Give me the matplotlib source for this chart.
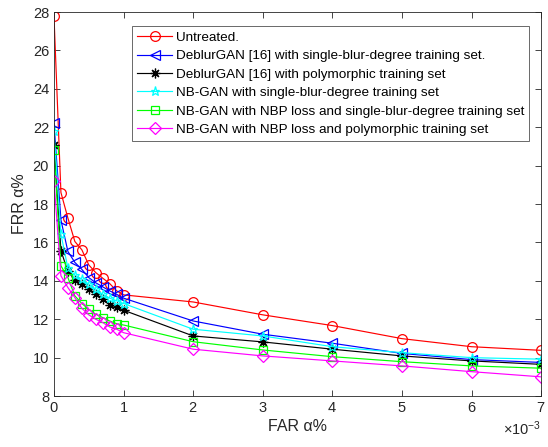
import matplotlib
matplotlib.use("Agg")
import matplotlib.pyplot as plt
from matplotlib.ticker import ScalarFormatter

plt.rcParams['font.family'] = ['Liberation Sans', 'DejaVu Sans']
plt.rcParams['mathtext.fontset'] = 'custom'
plt.rcParams['mathtext.rm'] = 'Liberation Sans'
plt.rcParams['mathtext.it'] = 'Liberation Sans:italic'

# FAR values (in units of 1e-3)
far_e3 = [0, 0.1, 0.2, 0.3, 0.4, 0.5, 0.6, 0.7, 0.8, 0.9, 1.0, 2, 3, 4, 5, 6, 7]

untreated = [27.8, 18.6, 17.27, 16.05, 15.62, 14.83, 14.43, 14.14, 13.86, 13.48, 13.27,
             12.9, 12.23, 11.67, 10.99, 10.57, 10.38]
deblur_single = [22.2, 17.17, 15.53, 14.96, 14.6, 14.17, 13.9, 13.69, 13.48, 13.3, 13.1,
                 11.91, 11.22, 10.75, 10.22, 9.9, 9.75]
deblur_poly = [21.1, 15.57, 14.49, 14.05, 13.83, 13.57, 13.34, 13.04, 12.75, 12.64, 12.47,
               11.13, 10.82, 10.44, 10.09, 9.83, 9.65]
nbgan_single = [21.8, 16.43, 14.66, 14.3, 14.09, 13.83, 13.57, 13.3, 13.1, 12.96, 12.82,
                11.48, 11.13, 10.57, 10.26, 10.0, 9.92]
nbgan_nbp_single = [20.83, 14.78, 14.17, 13.22, 12.82, 12.52, 12.26, 12.09, 11.91, 11.77, 11.7,
                    10.83, 10.4, 10.05, 9.79, 9.57, 9.45]
nbgan_nbp_poly = [19.22, 14.26, 13.65, 13.13, 12.57, 12.23, 12.0, 11.83, 11.6, 11.48, 11.3,
                  10.44, 10.09, 9.83, 9.57, 9.27, 9.0]

labels = [
    "Untreated.",
    "DeblurGAN [16] with single-blur-degree training set.",
    "DeblurGAN [16] with polymorphic training set",
    "NB-GAN with single-blur-degree training set",
    "NB-GAN with NBP loss and single-blur-degree training set",
    "NB-GAN with NBP loss and polymorphic training set",
]
series = [untreated, deblur_single, deblur_poly, nbgan_single, nbgan_nbp_single, nbgan_nbp_poly]
colors = ['#ff0000', '#0000ff', '#000000', '#00ffff', '#00ff00', '#ff00ff']
markers = ['o', '<', (8, 2, 0), '*', 's', 'D']
msizes = [7, 7, 7, 6.5, 5.5, 6]

far = [v * 1e-3 for v in far_e3]

fig = plt.figure(figsize=(5.48, 4.47), dpi=100)
ax = fig.add_axes([0.0985, 0.114, 0.889, 0.859])

for y, c, m, ms, lab in zip(series, colors, markers, msizes, labels):
    ax.plot(far, y, color=c, marker=m, markersize=ms, markerfacecolor='none',
            markeredgewidth=0.9, linewidth=0.85, label=lab)

ax.set_xlim(0, 0.007)
ax.set_ylim(8, 28)
ax.set_xticks([i * 1e-3 for i in range(8)])
ax.set_yticks(range(8, 29, 2))
fmt = ScalarFormatter(useMathText=True)
fmt.set_powerlimits((-2, 2))
ax.xaxis.set_major_formatter(fmt)

tc = '#262626'
ax.tick_params(direction='in', length=4, width=0.6, colors=tc, labelsize=10.5,
               top=True, right=True, labelcolor=tc)
for s in ax.spines.values():
    s.set_linewidth(0.6)
    s.set_color(tc)
ax.xaxis.get_offset_text().set_fontsize(10.5)
ax.xaxis.get_offset_text().set_color(tc)

ax.set_xlabel("FAR α%", fontsize=11.5, color=tc, labelpad=3)
ax.set_ylabel("FRR α%", fontsize=11.5, color=tc, labelpad=4)

leg = ax.legend(loc='upper right', bbox_to_anchor=(0.976, 0.963), fontsize=9.7,
                frameon=True, fancybox=False, edgecolor='#262626', handlelength=2.6,
                borderpad=0.4, labelspacing=0.44, handletextpad=0.25, borderaxespad=0)
leg.get_frame().set_linewidth(0.6)

fig.savefig("out.png", dpi=100)
